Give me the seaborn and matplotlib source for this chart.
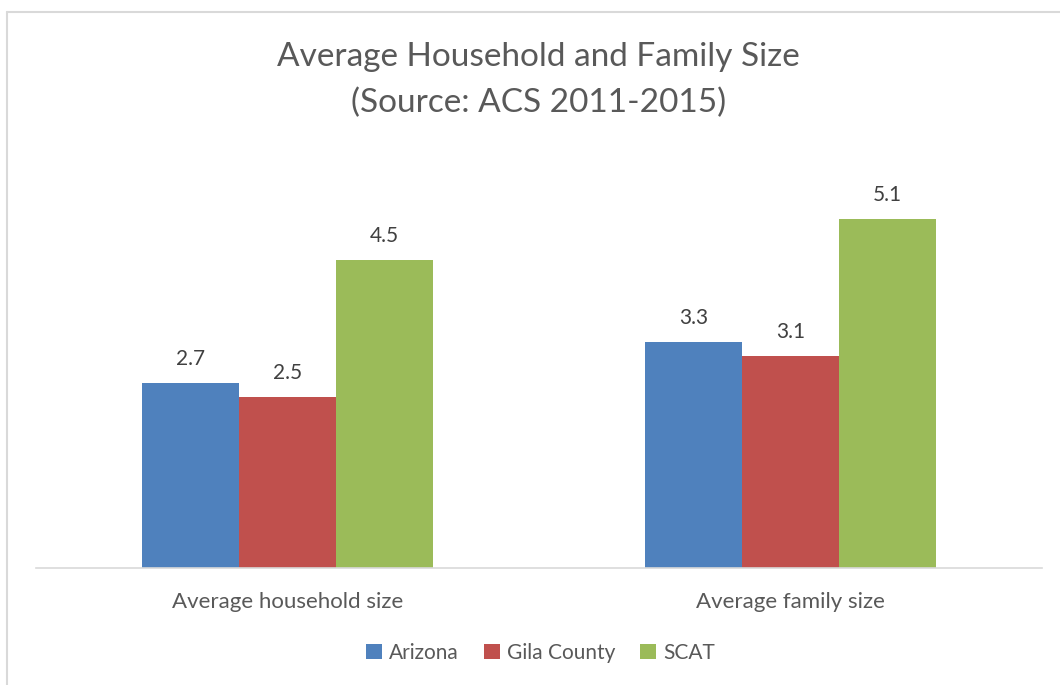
import pandas as pd
import matplotlib
matplotlib.use("Agg")
import matplotlib.pyplot as plt
import seaborn as sns
from matplotlib.lines import Line2D

categories = ["Average household size", "Average family size"]
regions = ["Arizona", "Gila County", "SCAT"]
arizona = [2.7, 3.3]
gila = [2.5, 3.1]
scat = [4.5, 5.1]
colors = ["#4F81BD", "#C0504D", "#9BBB59"]

df = pd.DataFrame({
    "category": categories * 3,
    "region": [r for r in regions for _ in categories],
    "value": arizona + gila + scat,
})

sns.set_style("white")
plt.rcParams["font.family"] = ["Lato", "DejaVu Sans"]

fig = plt.figure(figsize=(10.6, 6.85), dpi=100)
ax = fig.add_axes([36 / 1060, 1 - 568 / 685, (1042 - 36) / 1060, 411 / 685])

sns.barplot(data=df, x="category", y="value", hue="region", palette=colors,
            width=0.58, saturation=1, linewidth=0, ax=ax, legend=True)

for cont in ax.containers:
    ax.bar_label(cont, fmt="%.1f", padding=10, fontsize=15, color="#404040")

ax.set_ylim(0, 6)
ax.set_xlim(-0.5, 1.5)
ax.set_yticks([])
ax.set_xlabel("")
ax.set_ylabel("")
for s in ["top", "right", "left"]:
    ax.spines[s].set_visible(False)
ax.spines["bottom"].set_color("#D9D9D9")
ax.spines["bottom"].set_linewidth(1.2)
ax.tick_params(axis="x", length=0, pad=17, labelsize=16, labelcolor="#595959")

ax.legend(loc="center", bbox_to_anchor=(0.51, (685 - 653) / 685), bbox_transform=fig.transFigure,
          ncol=3, frameon=False, fontsize=15, labelcolor="#595959",
          handlelength=0.75, handleheight=0.75, handletextpad=0.35, columnspacing=1.2)

fig.text(0.508, 1 - 57 / 685, "Average Household and Family Size", ha="center", va="center",
         fontsize=24, color="#595959")
fig.text(0.508, 1 - 103 / 685, "(Source: ACS 2011-2015)", ha="center", va="center",
         fontsize=24, color="#595959")

# outer chart border
fig.add_artist(Line2D([7 / 1060, 7 / 1060], [0, 1 - 11.5 / 685], transform=fig.transFigure,
                      color="#D9D9D9", lw=1.5))
fig.add_artist(Line2D([7 / 1060, 1], [1 - 11.5 / 685, 1 - 11.5 / 685], transform=fig.transFigure,
                      color="#D9D9D9", lw=1.5))

fig.savefig("out.png", dpi=100)
